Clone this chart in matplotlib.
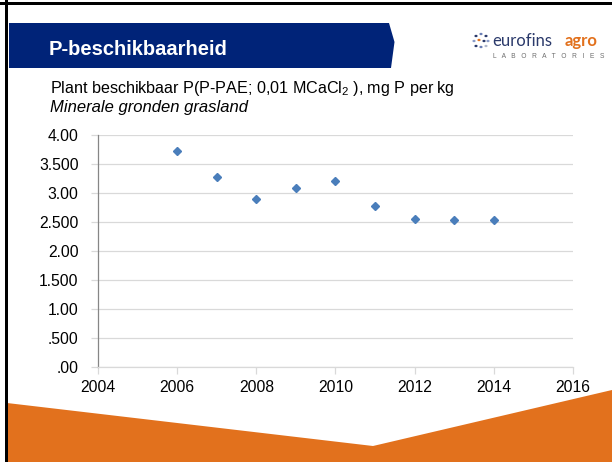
import matplotlib
matplotlib.use('Agg')
import matplotlib.pyplot as plt
from matplotlib.patches import Polygon, Rectangle
from matplotlib.ticker import FixedLocator, FixedFormatter

plt.rcParams['font.family'] = ['Liberation Sans', 'DejaVu Sans']
plt.rcParams['mathtext.fontset'] = 'custom'
plt.rcParams['mathtext.rm'] = 'Liberation Sans'

# data
jaren = [2006, 2007, 2008, 2009, 2010, 2011, 2012, 2013, 2014]
p_pae = [3.73, 3.28, 2.90, 3.08, 3.21, 2.77, 2.55, 2.53, 2.54]

y_ticks = [0, 0.5, 1.0, 1.5, 2.0, 2.5, 3.0, 3.5, 4.0]
y_labels = ['.00', '.500', '1.00', '1.500', '2.00', '2.500', '3.00', '3.500', '4.00']
x_ticks = [2004, 2006, 2008, 2010, 2012, 2014, 2016]

W, H = 612, 462
fig = plt.figure(figsize=(W / 100, H / 100), dpi=100)


def px(x, y):
    # pixel positie -> figuur coordinaten
    return (x / W, 1 - y / H)


# slide opmaak
fig.add_artist(Polygon([px(9, 23), px(389, 23), px(394.5, 42), px(391, 68), px(9, 68)],
                       closed=True, transform=fig.transFigure, facecolor='#002378', edgecolor='none'))
fig.add_artist(Polygon([px(7, 403), px(373, 446), px(612, 390), px(612, 462), px(7, 462)],
                       closed=True, transform=fig.transFigure, facecolor='#E2711D', edgecolor='none'))
fig.add_artist(Rectangle(px(0, 5), 1, 3 / H, transform=fig.transFigure,
                         facecolor='black', edgecolor='none'))
fig.add_artist(Rectangle(px(5, 462), 3 / W, 1, transform=fig.transFigure,
                         facecolor='black', edgecolor='none'))

fig.text(*px(49, 55), 'P-beschikbaarheid', color='white', fontsize=14.5,
         fontweight='bold', va='baseline', ha='left')

# logo
dots = [(476, 36, '#2b3a6b'), (481, 34, '#6a7fb5'), (486, 36, '#2b3a6b'),
        (474, 41, '#8a9cc9'), (479, 40, '#E2711D'), (484, 41, '#2b3a6b'),
        (488, 41, '#8a9cc9'), (476, 46, '#2b3a6b'), (481, 47, '#6a7fb5'),
        (486, 46, '#b0b8cc')]
for dx, dy, c in dots:
    fig.add_artist(plt.Circle(px(dx, dy), 1.6 / W, transform=fig.transFigure,
                              facecolor=c, edgecolor='none'))
fig.text(*px(492, 46), 'eurofins', color='#2b3a6b', fontsize=12,
         va='baseline', ha='left', family=['Lato', 'DejaVu Sans'])
fig.text(*px(565, 46), 'agro', color='#E2711D', fontsize=12, fontweight='bold',
         va='baseline', ha='left', family=['Lato', 'DejaVu Sans'])
fig.text(*px(493, 58), 'L   A   B   O   R   A   T   O   R   I   E   S', color='#6d6d6d',
         fontsize=4.8, va='baseline', ha='left')

fig.text(*px(49.5, 93), 'Plant beschikbaar P(P-PAE; 0,01 MCaCl$_2$ ), mg P per kg',
         fontsize=11.6, va='baseline', ha='left')
fig.text(*px(49.5, 112), 'Minerale gronden grasland', fontsize=12,
         style='italic', va='baseline', ha='left')

# grafiek
l, b = px(98, 367)
r, t = px(573, 135)
ax = fig.add_axes([l, b, r - l, t - b])
ax.plot(jaren, p_pae, linestyle='none', marker='D', markersize=4.2,
        color='#4a7ebb', markeredgecolor='#4a7ebb')

ax.set_xlim(2004, 2016)
ax.set_ylim(0, 4)
ax.set_xticks(x_ticks)
ax.yaxis.set_major_locator(FixedLocator(y_ticks))
ax.yaxis.set_major_formatter(FixedFormatter(y_labels))
ax.grid(axis='y', color='#d9d9d9', linewidth=0.9)
ax.set_axisbelow(True)
for s in ['top', 'right']:
    ax.spines[s].set_visible(False)
ax.spines['left'].set_color('#868686')
ax.spines['left'].set_linewidth(0.9)
ax.spines['bottom'].set_color('#d9d9d9')
ax.spines['bottom'].set_linewidth(0.9)
ax.tick_params(axis='y', length=5, width=0.9, color='#d9d9d9', pad=9, labelsize=11.3)
ax.tick_params(axis='x', length=5, width=0.9, color='#d9d9d9', pad=4, labelsize=11.3)
ax.set_facecolor('none')

fig.savefig('out.png', dpi=100)
